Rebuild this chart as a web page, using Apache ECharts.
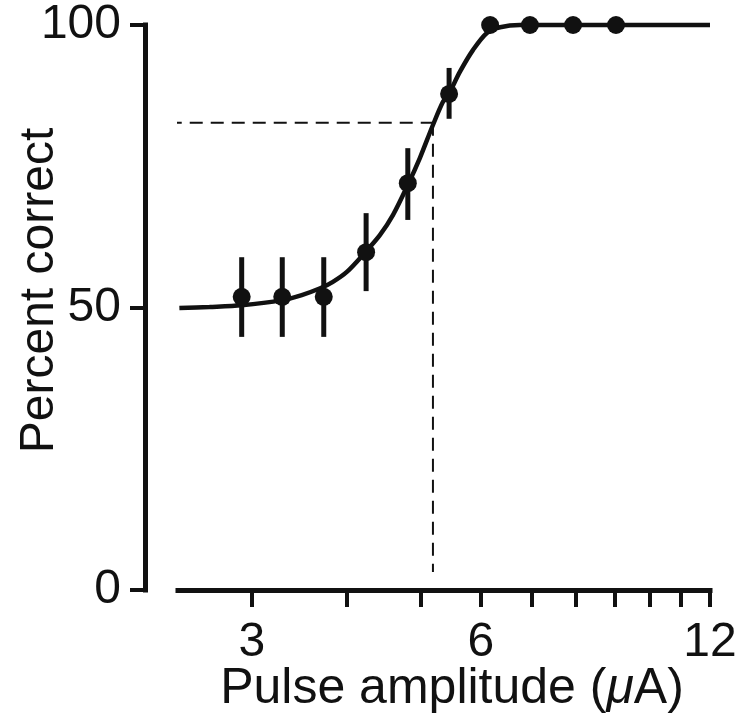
<!DOCTYPE html>
<html>
<head>
<meta charset="utf-8">
<script src="https://cdn.jsdelivr.net/npm/echarts@6/dist/echarts.min.js"></script>
<style>html,body{margin:0;padding:0;background:#fff;}#c{width:746px;height:725px;}</style>
</head>
<body>
<div id="c"></div>
<script>
// Data
var amplitudes = [2.91, 3.29, 3.73, 4.24, 4.81, 5.45, 6.17, 6.96, 7.93, 9.03];
var percentCorrect = [51.9, 51.9, 51.9, 59.8, 72.0, 87.8, 100, 100, 100, 100];
var errLow = [44.8, 44.8, 44.8, 52.9, 65.5, 83.4, null, null, null, null];
var errHigh = [58.9, 58.9, 58.9, 66.7, 78.2, 92.4, null, null, null, null];
var fitX = [2.41, 2.64, 2.91, 3.29, 3.49, 3.69, 3.83, 4.0, 4.23, 4.42, 4.6, 4.81, 4.99, 5.19, 5.35, 5.45, 5.63, 5.86, 6.11, 6.36, 6.75, 12];
var fitY = [49.9, 50.1, 50.4, 51.3, 52.2, 53.4, 54.5, 56.3, 59.8, 62.8, 66.4, 71.7, 76.5, 82.3, 86.4, 87.9, 91.7, 95.6, 98.6, 99.6, 100, 100];
var thresholdX = 5.19;
var thresholdY = 82.7;
var xTickLabels = [3, 6, 12];
var xMinorTicks = [4, 5, 7, 8, 9, 10, 11];
var yTickLabels = [0, 50, 100];

var INK = '#111111';
var FONT = 'Liberation Sans, Arial, Helvetica, sans-serif';

var fitData = fitX.map(function (x, i) { return [x, fitY[i]]; });
var pointData = amplitudes.map(function (x, i) { return [x, percentCorrect[i]]; });
var errData = [];
amplitudes.forEach(function (x, i) {
  if (errLow[i] != null) errData.push([x, errLow[i], errHigh[i]]);
});

var chart = echarts.init(document.getElementById('c'), null, { renderer: 'canvas' });
chart.setOption({
  animation: false,
  backgroundColor: '#ffffff',
  grid: { left: 178, right: 36, top: 25, bottom: 135, containLabel: false, outerBoundsMode: 'none' },
  xAxis: {
    type: 'log',
    logBase: 2,
    min: 2.4,
    max: 12,
    name: '{a|Pulse amplitude (}{i|μ}{a|A)}',
    nameLocation: 'middle',
    nameGap: 74,
    nameMoveOverlap: false,
    nameTextStyle: {
      padding: [0, 0, 0, 16],
      rich: {
        a: { fontSize: 50, fontFamily: FONT, color: INK },
        i: { fontSize: 50, fontFamily: FONT, color: INK, fontStyle: 'italic' }
      }
    },
    axisLine: { show: true, lineStyle: { color: INK, width: 5, cap: 'square' } },
    axisTick: {
      show: true, length: 17, inside: false,
      customValues: xTickLabels.concat(xMinorTicks),
      lineStyle: { color: INK, width: 4 }
    },
    axisLabel: {
      show: true, customValues: xTickLabels, margin: 29,
      fontSize: 48, fontFamily: FONT, color: INK,
      formatter: function (v) { return String(Math.round(v)); }
    },
    splitLine: { show: false },
    minorTick: { show: false }
  },
  yAxis: {
    type: 'value',
    min: 0,
    max: 100,
    interval: 50,
    offset: 33,
    name: 'Percent correct',
    nameLocation: 'middle',
    nameGap: 81,
    nameMoveOverlap: false,
    nameTextStyle: { fontSize: 48, fontFamily: FONT, color: INK, padding: [0, 0, 0, 34] },
    axisLine: { show: true, lineStyle: { color: INK, width: 5, cap: 'square' } },
    axisTick: { show: true, length: 15, inside: false, lineStyle: { color: INK, width: 4 } },
    axisLabel: {
      show: true, margin: 24, fontSize: 48, fontFamily: FONT, color: INK,
      customValues: yTickLabels
    },
    splitLine: { show: false }
  },
  series: [
    {
      type: 'line',
      name: 'threshold-h',
      data: [[2.19, thresholdY], [thresholdX, thresholdY]],
      clip: false,
      symbol: 'none',
      lineStyle: { color: INK, width: 2, type: [13, 8] },
      z: 1
    },
    {
      type: 'line',
      name: 'threshold-v',
      data: [[thresholdX, thresholdY], [thresholdX, 3.2]],
      clip: false,
      symbol: 'none',
      lineStyle: { color: INK, width: 2, type: [13, 8] },
      z: 1
    },
    {
      type: 'line',
      name: 'fit',
      data: fitData,
      smooth: 0.3,
      symbol: 'none',
      clip: false,
      lineStyle: { color: INK, width: 4.5 },
      z: 2
    },
    {
      type: 'custom',
      name: 'error',
      data: errData,
      encode: { x: 0, y: [1, 2] },
      renderItem: function (params, api) {
        var x = api.value(0);
        var lo = api.coord([x, api.value(1)]);
        var hi = api.coord([x, api.value(2)]);
        return {
          type: 'line',
          shape: { x1: lo[0], y1: lo[1], x2: hi[0], y2: hi[1] },
          style: { stroke: INK, lineWidth: 5 }
        };
      },
      clip: false,
      z: 3
    },
    {
      type: 'scatter',
      name: 'data',
      data: pointData,
      symbol: 'circle',
      symbolSize: 18,
      itemStyle: { color: INK, opacity: 1 },
      clip: false,
      z: 4
    }
  ]
});
</script>
</body>
</html>
